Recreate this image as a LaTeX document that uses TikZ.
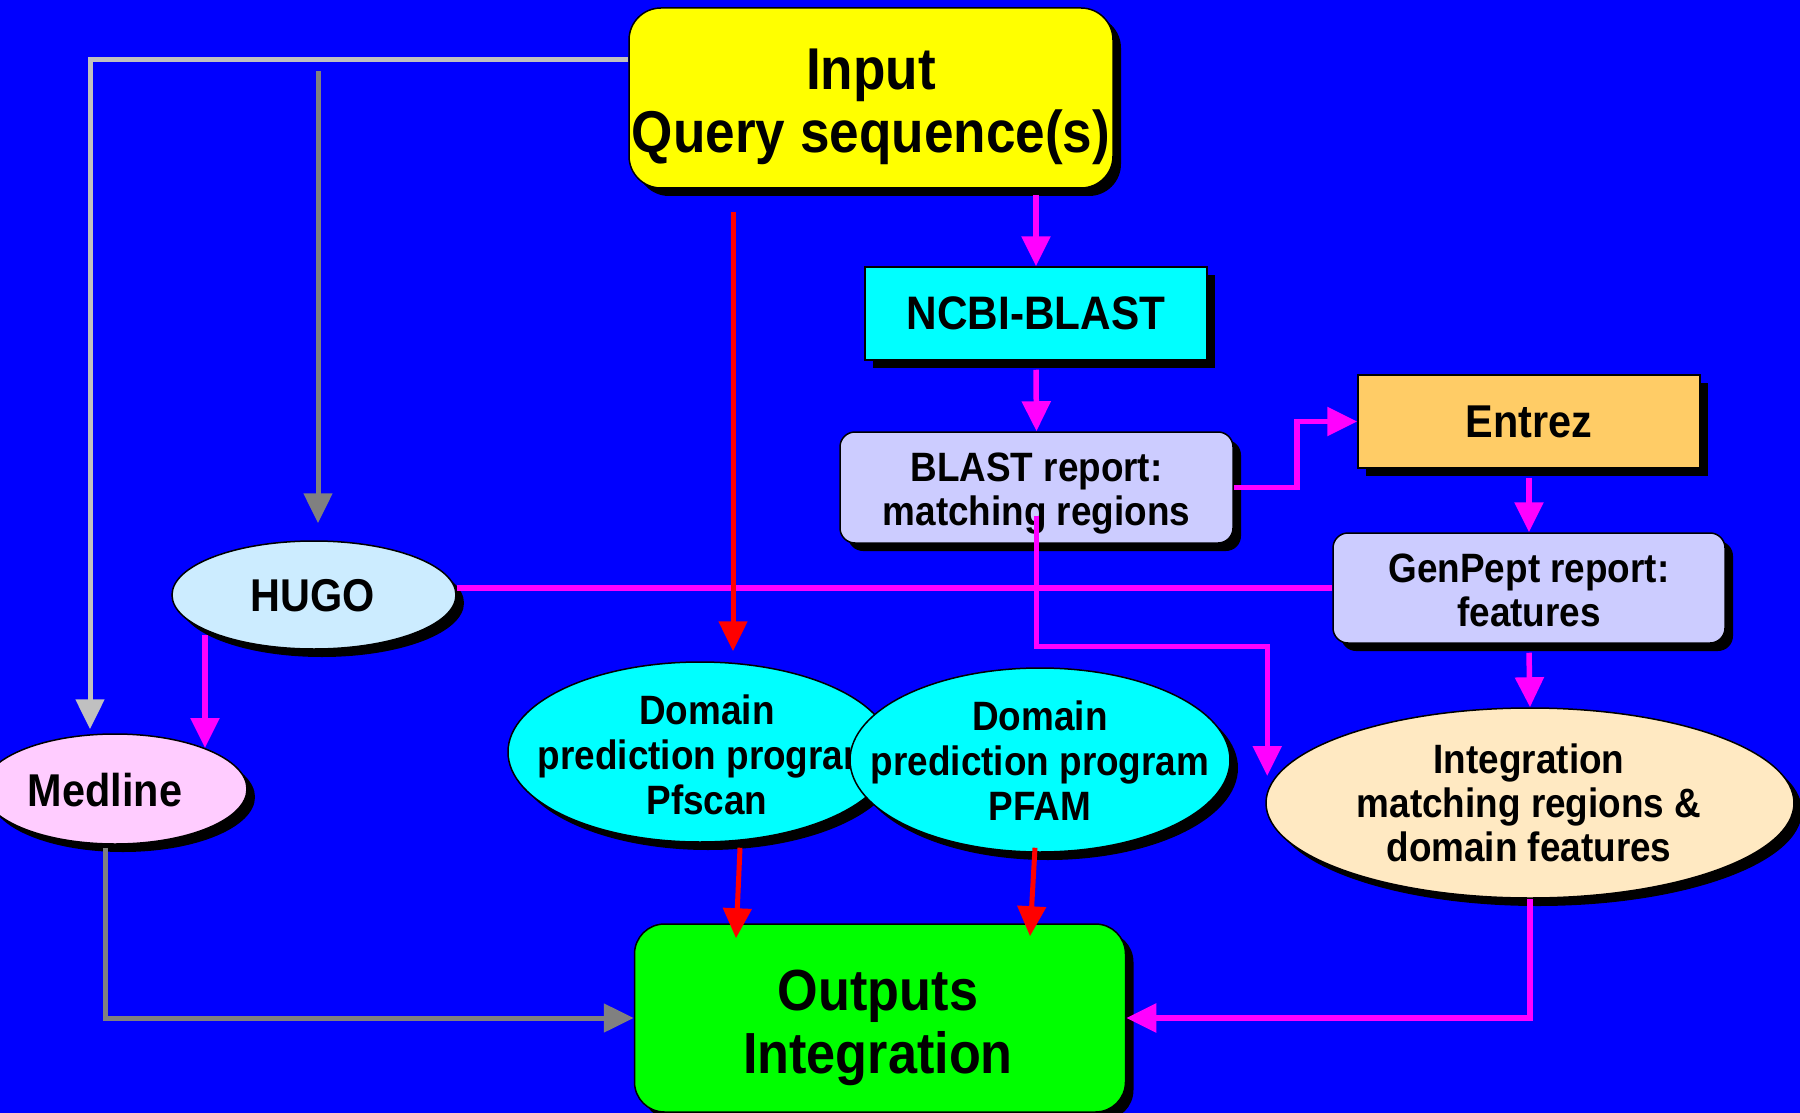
\documentclass[tikz,border=0pt]{standalone}
\usepackage{fontspec}
\setmainfont{Liberation Sans}[FakeStretch=0.9]
\usetikzlibrary{shapes.geometric,shadows,arrows.meta,calc}
\definecolor{bgblue}{HTML}{0000FF}
\definecolor{yellowc}{HTML}{FFFF00}
\definecolor{cyanc}{HTML}{00FFFF}
\definecolor{lavc}{HTML}{CCCCFF}
\definecolor{orangec}{HTML}{FFCC66}
\definecolor{hugoc}{HTML}{CCECFF}
\definecolor{pinkc}{HTML}{FFCCFF}
\definecolor{creamc}{HTML}{FFE9C2}
\definecolor{greenc}{HTML}{00FF00}
\definecolor{magc}{HTML}{FF00FF}
\definecolor{redc}{HTML}{FF0000}
\definecolor{lgrayc}{HTML}{C0C0C0}
\definecolor{dgrayc}{HTML}{808080}
\begin{document}
\begin{tikzpicture}[x=1pt,y=-1pt,
  shad/.style={drop shadow={shadow xshift=8pt,shadow yshift=-8pt,opacity=1,fill=black}},
  box/.style={draw=black,line width=1.5pt,shad,inner sep=0pt,align=center},
  ell/.style={ellipse,draw=black,line width=1.5pt,shad,inner sep=0pt},
  txt/.style={align=center,inner sep=0pt,font=\fontsize{41}{45}\selectfont\bfseries},
  tipd/.style={-{Triangle[length=30pt,width=28pt]}},
  magline/.style={draw=magc,line width=5.5pt},
  redline/.style={draw=redc,line width=5pt},
  lgline/.style={draw=lgrayc,line width=5pt},
  dgline/.style={draw=dgrayc,line width=5pt}
]
\fill[bgblue] (0,0) rectangle (1800,1113);
\useasboundingbox (0,0) rectangle (1800,1113);

% ---- boxes
\node[box,fill=yellowc,rounded corners=32pt,minimum width=484pt,minimum height=180pt] (input) at (871,98) {};
\node[txt,font=\fontsize{59}{63}\selectfont\bfseries] (inputt) at (871,107) {Input\\Query sequence(s)};
\node[box,fill=cyanc,minimum width=342pt,minimum height=93pt,
  font=\fontsize{47}{50}\selectfont\bfseries] (ncbi) at (1036,313.5) {NCBI-BLAST};
\node[box,fill=lavc,rounded corners=15pt,minimum width=393pt,minimum height=111pt] (blast) at (1036.5,487.5) {};
\node[txt,font=\fontsize{41}{44}\selectfont\bfseries] (blastt) at (1036.5,494) {BLAST report:\\matching regions};
\node[box,fill=orangec,minimum width=342pt,minimum height=93pt,
  font=\fontsize{46}{50}\selectfont\bfseries] (entrez) at (1529,421.5) {Entrez};
\node[box,fill=lavc,rounded corners=15pt,minimum width=392pt,minimum height=110pt] (genpept) at (1529,588) {};
\node[txt,font=\fontsize{41}{44}\selectfont\bfseries] (genpeptt) at (1529,590) {GenPept report:\\features};
\node[box,fill=greenc,rounded corners=30pt,minimum width=491pt,minimum height=188pt] (outputs) at (880,1018) {};
\node[txt,font=\fontsize{58}{63}\selectfont\bfseries] (outputst) at (878,1028) {Outputs\\Integration};

% ---- ellipses
\node[ell,fill=hugoc,minimum width=284pt,minimum height=108pt] (hugo) at (314,595) {};
\node[txt,font=\fontsize{46}{50}\selectfont\bfseries] (hugot) at (313,596) {HUGO};
\node[ell,fill=pinkc,minimum width=264pt,minimum height=110pt] (medline) at (115,789) {};
\node[txt,font=\fontsize{46}{50}\selectfont\bfseries] (medlinet) at (105,790) {Medline};
\node[ell,fill=cyanc,minimum width=384pt,minimum height=180pt] (pfscan) at (700,752) {};
\node[txt] (pfscant) at (707,755) {Domain\\prediction program\\Pfscan};
\node[ell,fill=cyanc,minimum width=380pt,minimum height=184pt] (pfam) at (1040,760) {};
\node[txt] (pfamt) at (1040,761) {Domain\\prediction program\\PFAM};
\node[ell,fill=creamc,minimum width=528pt,minimum height=190pt] (integ) at (1530,803) {};
\node[txt,font=\fontsize{41}{44}\selectfont\bfseries] (integt) at (1529,803) {Integration\\matching regions \&\\domain features};

% ---- connectors
\coordinate (dgtop) at (318,71);
\coordinate (redtop) at (733,212);
\coordinate (redend) at ([yshift=10pt]pfscan.north);

\draw[lgline,tipd] (input.west |- 0,60) -| ($(medline.north)+(-25,-4)$);
\draw[dgline,tipd] (dgtop) -- ([yshift=17pt]hugo.north -| dgtop);
\draw[magline] (genpept.west) -- (genpept.west -| hugo.east);
\draw[magline,tipd] ($(hugo.center)+(-109,40)$) -- ($(medline.center)+(90,-41)$);
\draw[magline,tipd] ([yshift=-6pt]input.south -| ncbi.north) -- (ncbi.north);
\draw[magline,tipd] ([yshift=-9pt]ncbi.south) -- (blast.north);
\draw[magline,tipd] (blast.east) -- ++(63,0) |- (entrez.west);
\draw[magline,tipd] ([yshift=-9pt]entrez.south) -- (genpept.north);
\draw[magline,tipd] ([yshift=-9pt]genpept.south) -- (integ.north);
\draw[magline,tipd] ($(blast.center)+(0,28)$) -- ++(0,131) -| ($(integ.west)+(2,-27)$);
\draw[magline,tipd] (integ.south) |- (outputs.east);
\draw[dgline,tipd] ($(medline.south)+(-10,3)$) |- (outputs.west);
\draw[redline,tipd] (redtop) -- (redtop |- redend);
\draw[redline,tipd] ($(pfscan.south)+(40,5)$) -- ($(outputs.north)+(-144,15)$);
\draw[redline,tipd] ($(pfam.south)+(-5,-5)$) -- ($(outputs.north)+(150,13)$);
\end{tikzpicture}
\end{document}
